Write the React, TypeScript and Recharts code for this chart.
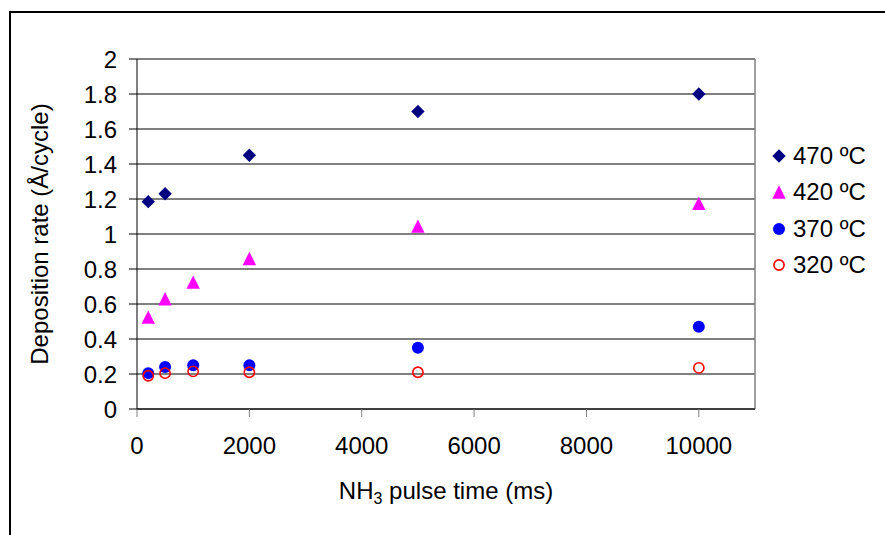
import React from 'react';
import { ScatterChart, Scatter, XAxis, YAxis, CartesianGrid, ReferenceLine } from 'recharts';

const pulseTimes = [200, 500, 1000, 2000, 5000, 10000];
const pulseTimes470 = [200, 500, 2000, 5000, 10000];
const rate470 = [1.185, 1.23, 1.45, 1.70, 1.80];
const rate420 = [0.525, 0.63, 0.725, 0.86, 1.045, 1.175];
const rate370 = [0.205, 0.24, 0.25, 0.25, 0.35, 0.47];
const rate320 = [0.19, 0.205, 0.215, 0.21, 0.21, 0.235];
const xTicks = [0, 2000, 4000, 6000, 8000, 10000];
const yTicks = [0, 0.2, 0.4, 0.6, 0.8, 1, 1.2, 1.4, 1.6, 1.8, 2];
const seriesNames = ['470 ºC', '420 ºC', '370 ºC', '320 ºC'];

const toPoints = (xs: number[], ys: number[]) => xs.map((x, i) => ({ x, y: ys[i] }));
const data470 = toPoints(pulseTimes470, rate470);
const data420 = toPoints(pulseTimes, rate420);
const data370 = toPoints(pulseTimes, rate370);
const data320 = toPoints(pulseTimes, rate320);

const FONT = '"Liberation Sans", Arial, sans-serif';
const FS = 24;

const Diamond = (p: any) => {
  const { cx, cy } = p;
  const r = 6.7;
  return <path d={`M${cx},${cy - r}L${cx + r},${cy}L${cx},${cy + r}L${cx - r},${cy}Z`} fill="#000080" />;
};
const Triangle = (p: any) => {
  const { cx, cy } = p;
  const h = 6.7;
  return <path d={`M${cx},${cy - h}L${cx + h},${cy + h}L${cx - h},${cy + h}Z`} fill="#FF00FF" />;
};
const Dot = (p: any) => <circle cx={p.cx} cy={p.cy} r={6} fill="#0000FF" />;
const Ring = (p: any) => <circle cx={p.cx} cy={p.cy} r={5.1} fill="none" stroke="#FF0000" strokeWidth={1.6} />;

const markerFor = (i: number) => {
  const c = 7;
  if (i === 0) return <Diamond cx={c} cy={c} />;
  if (i === 1) return <Triangle cx={c} cy={c} />;
  if (i === 2) return <Dot cx={c} cy={c} />;
  return <Ring cx={c} cy={c} />;
};

const LegendBox = () => (
  <div style={{ position: 'absolute', left: 772, top: 138, fontFamily: FONT, fontSize: FS, color: '#000' }}>
    {seriesNames.map((n, i) => (
      <div key={n} style={{ height: 36.3, display: 'flex', alignItems: 'center', whiteSpace: 'nowrap' }}>
        <svg width={14} height={14} style={{ marginRight: 7 }}>{markerFor(i)}</svg>
        <span>{n}</span>
      </div>
    ))}
  </div>
);

export default function App() {
  return (
    <div style={{ position: 'absolute', left: 0, top: 0, width: 885, height: 535, overflow: 'hidden', background: '#fff' }}>
      <div style={{ position: 'absolute', left: 9, top: 10.5, width: 1000, height: 1000, borderLeft: '2px solid #000', borderTop: '2px solid #000' }} />
      <ScatterChart width={885} height={535} margin={{ top: 59, right: 130, bottom: 0, left: 0 }} style={{ position: 'absolute', left: 0, top: 0, fontFamily: FONT }}>
        <CartesianGrid vertical={false} stroke="#000" strokeWidth={1} />
        <XAxis
          type="number"
          dataKey="x"
          domain={[0, 11000]}
          ticks={xTicks}
          height={126}
          tickSize={8}
          tickMargin={20}
          stroke="#000"
          tickLine={{ stroke: '#808080' }}
          tick={{ fill: '#000', fontSize: FS, fontFamily: FONT }}
          allowDataOverflow
        />
        <YAxis
          type="number"
          dataKey="y"
          domain={[0, 2]}
          ticks={yTicks}
          width={137}
          tickSize={8}
          tickMargin={12}
          stroke="#000"
          tick={{ fill: '#000', fontSize: FS, fontFamily: FONT }}
        />
        <ReferenceLine y={2} stroke="#808080" strokeWidth={1.5} />
        <ReferenceLine x={11000} stroke="#808080" strokeWidth={1.5} />
        <Scatter name="470 ºC" data={data470} shape={<Diamond />} isAnimationActive={false} />
        <Scatter name="420 ºC" data={data420} shape={<Triangle />} isAnimationActive={false} />
        <Scatter name="370 ºC" data={data370} shape={<Dot />} isAnimationActive={false} />
        <Scatter name="320 ºC" data={data320} shape={<Ring />} isAnimationActive={false} />
        <text x={446} y={499} textAnchor="middle" fontFamily={FONT} fontSize={FS} fill="#000">
          <tspan>NH</tspan>
          <tspan fontSize={16} dy={5}>3</tspan>
          <tspan dy={-5}> pulse time (ms)</tspan>
        </text>
        <text x={48} y={234} textAnchor="middle" fontFamily={FONT} fontSize={FS} fill="#000" transform="rotate(-90 48 234)">
          Deposition rate (Å/cycle)
        </text>
      </ScatterChart>
      <LegendBox />
    </div>
  );
}
